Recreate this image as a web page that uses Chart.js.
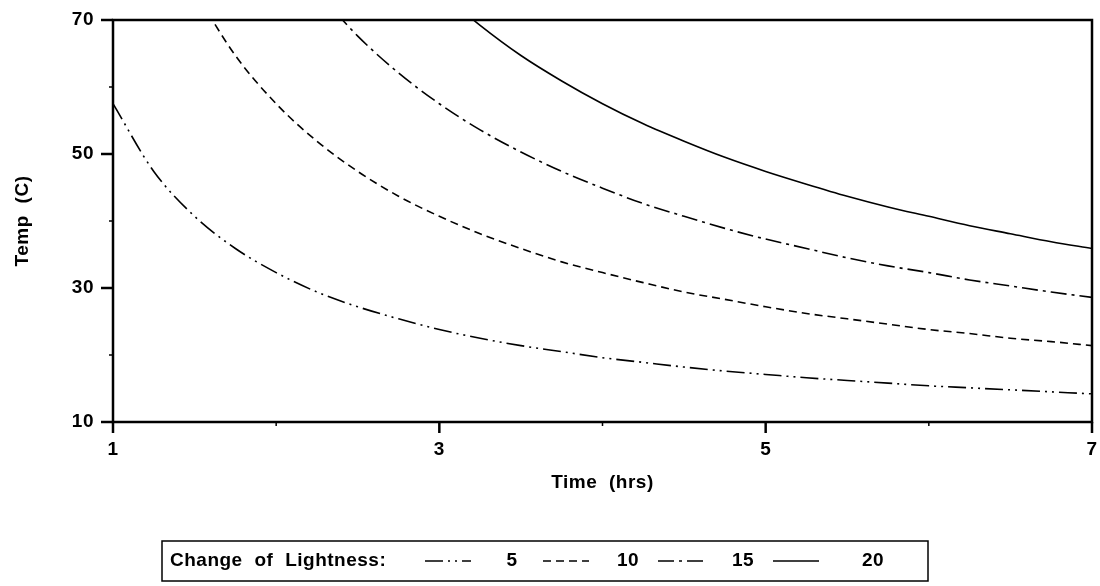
<!DOCTYPE html>
<html>
<head>
<meta charset="utf-8">
<script src="https://cdn.jsdelivr.net/npm/chart.js@4.4.1/dist/chart.umd.min.js"></script>
<style>
  html, body { margin: 0; padding: 0; background: #fff; }
  #wrap { width: 1100px; height: 586px; position: relative; }
</style>
</head>
<body>
<div id="wrap"><canvas id="c"></canvas></div>
<script>
// Time axis samples (hours)
const hours = [1, 1.25, 1.5, 1.75, 2, 2.25, 2.5, 2.75, 3, 3.25, 3.5, 3.75, 4,
               4.25, 4.5, 4.75, 5, 5.25, 5.5, 5.75, 6, 6.25, 6.5, 6.75, 7];

// Temperature (C) needed for each change of lightness
const temp5  = [57.5, 47.4, 40.7, 35.9, 32.3, 29.4, 27.2, 25.4, 23.8, 22.5, 21.4, 20.5, 19.6,
                18.9, 18.2, 17.6, 17.1, 16.6, 16.2, 15.8, 15.4, 15.1, 14.8, 14.5, 14.2];
const temp10 = [null, null, 74.3, 64.7, 57.5, 51.9, 47.4, 43.7, 40.7, 38.1, 35.9, 33.9, 32.3,
                30.8, 29.4, 28.3, 27.2, 26.2, 25.4, 24.6, 23.8, 23.2, 22.5, 22.0, 21.4];
const temp15 = [null, null, null, null, null, 74.3, 67.6, 62.1, 57.5, 53.6, 50.3, 47.4, 44.9,
                42.6, 40.7, 38.9, 37.3, 35.9, 34.5, 33.3, 32.3, 31.2, 30.3, 29.4, 28.6];
const temp20 = [null, null, null, null, null, null, null, null, 74.3, 69.2, 64.7, 60.9, 57.5,
                54.5, 51.9, 49.5, 47.4, 45.5, 43.7, 42.1, 40.7, 39.3, 38.1, 36.9, 35.9];

const seriesLabels = ['5', '10', '15', '20'];
const legendTitle = 'Change of Lightness:';

const xMajorTicks = [1, 3, 5, 7];
const xMinorTicks = [2, 4, 6];
const yMajorTicks = [10, 30, 50, 70];
const yMinorTicks = [20, 40, 60];

const FONT_FAMILY = '"Liberation Sans", Arial, Helvetica, sans-serif';
const FONT = { family: FONT_FAMILY, size: 19, weight: 'bold' };

function points(arr) {
  return hours.map((h, i) => ({ x: h, y: arr[i] })).filter(p => p.y !== null);
}

const dashes = [[18, 5, 2, 5, 2, 5], [8, 5], [16, 5, 3, 5], []];
const allTemps = [temp5, temp10, temp15, temp20];

const datasets = allTemps.map((arr, i) => ({
  label: seriesLabels[i],
  data: points(arr),
  borderColor: '#000',
  borderWidth: 1.6,
  borderDash: dashes[i],
  pointRadius: 0,
  fill: false,
  cubicInterpolationMode: 'monotone'
}));

// Slightly open lettering for all chart text
const spacingPlugin = {
  id: 'textSpacing',
  beforeDraw(chart) {
    chart.ctx.letterSpacing = '0.5px';
    chart.ctx.wordSpacing = '6px';
  }
};

// Frame around the plot area plus outward tick marks
const framePlugin = {
  id: 'frame',
  afterDraw(chart) {
    const { ctx, chartArea: a, scales: { x, y } } = chart;
    ctx.save();
    ctx.strokeStyle = '#000';
    ctx.lineCap = 'butt';
    ctx.lineWidth = 2.5;
    ctx.strokeRect(a.left, a.top, a.right - a.left, a.bottom - a.top);
    const seg = (x1, y1, x2, y2, w) => {
      ctx.lineWidth = w;
      ctx.beginPath(); ctx.moveTo(x1, y1); ctx.lineTo(x2, y2); ctx.stroke();
    };
    xMajorTicks.forEach(v => { const px = x.getPixelForValue(v); seg(px, a.bottom, px, a.bottom + 11, 2.5); });
    xMinorTicks.forEach(v => { const px = x.getPixelForValue(v); seg(px, a.bottom, px, a.bottom + 4, 1.5); });
    yMajorTicks.forEach(v => { const py = y.getPixelForValue(v); seg(a.left, py, a.left - 12, py, 2.5); });
    yMinorTicks.forEach(v => { const py = y.getPixelForValue(v); seg(a.left, py, a.left - 4, py, 1.5); });
    ctx.restore();
  }
};

// Boxed legend drawn under the x axis title
const legendPlugin = {
  id: 'boxLegend',
  afterDraw(chart) {
    const ctx = chart.ctx;
    const box = { left: 162, top: 541, right: 928, bottom: 581 };
    const cy = (box.top + box.bottom) / 2;
    ctx.save();
    ctx.strokeStyle = '#000';
    ctx.lineWidth = 1.5;
    ctx.strokeRect(box.left, box.top, box.right - box.left, box.bottom - box.top);
    ctx.fillStyle = '#000';
    ctx.font = 'bold 19px ' + FONT_FAMILY;
    ctx.textBaseline = 'middle';
    ctx.textAlign = 'left';
    ctx.fillText(legendTitle, 170, cy);
    const sampleStart = [425, 543, 658, 773];
    const sampleLen = 46;
    const labelCenter = [512, 628, 743, 873];
    chart.data.datasets.forEach((ds, i) => {
      ctx.setLineDash(ds.borderDash || []);
      ctx.lineWidth = 1.5;
      ctx.beginPath();
      ctx.moveTo(sampleStart[i], cy);
      ctx.lineTo(sampleStart[i] + sampleLen, cy);
      ctx.stroke();
      ctx.setLineDash([]);
      ctx.textAlign = 'center';
      ctx.fillText(ds.label, labelCenter[i], cy);
    });
    ctx.restore();
  }
};

new Chart(document.getElementById('c'), {
  type: 'line',
  data: { datasets },
  options: {
    responsive: true,
    maintainAspectRatio: false,
    animation: false,
    layout: { padding: { left: 0, top: 20, right: 8, bottom: 84 } },
    plugins: { legend: { display: false }, tooltip: { enabled: false } },
    scales: {
      x: {
        type: 'linear',
        min: 1,
        max: 7,
        grid: { display: false, drawTicks: false },
        border: { display: false },
        afterBuildTicks: s => { s.ticks = xMajorTicks.map(v => ({ value: v })); },
        afterFit: s => { s.height = 80; s.paddingLeft = 0; s.paddingRight = 0; },
        ticks: { color: '#000', padding: 16, maxRotation: 0, font: FONT },
        title: {
          display: true,
          text: 'Time (hrs)',
          color: '#000',
          padding: { top: 0, bottom: 8 },
          font: FONT
        }
      },
      y: {
        type: 'linear',
        min: 10,
        max: 70,
        grid: { display: false, drawTicks: false },
        border: { display: false },
        afterBuildTicks: s => { s.ticks = yMajorTicks.map(v => ({ value: v })); },
        afterFit: s => { s.width = 113; s.paddingTop = 0; s.paddingBottom = 0; },
        ticks: { color: '#000', padding: 19, font: FONT },
        title: {
          display: true,
          text: 'Temp (C)',
          color: '#000',
          padding: { top: 11, bottom: 0 },
          font: FONT
        }
      }
    }
  },
  plugins: [spacingPlugin, framePlugin, legendPlugin]
});
</script>
</body>
</html>
